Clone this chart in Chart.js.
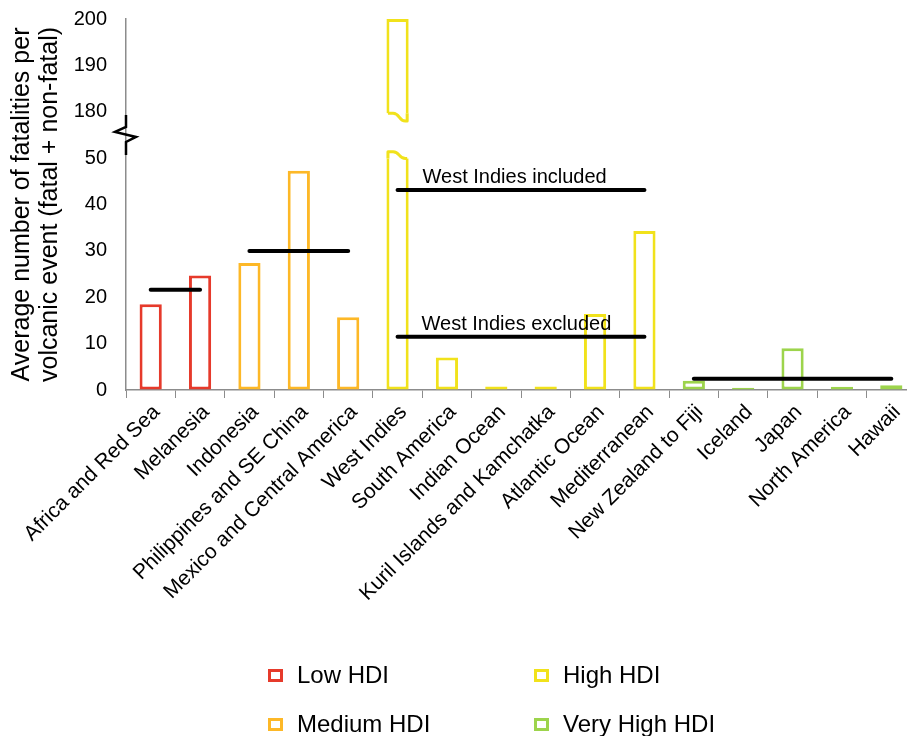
<!DOCTYPE html>
<html lang="en">
<head>
    <meta charset="UTF-8">
    <title>Volcanic fatalities by region</title>
    <script src="https://cdn.jsdelivr.net/npm/chart.js@4.4.1/dist/chart.umd.min.js"></script>
    <style>
        html, body { margin: 0; padding: 0; background: #fff; overflow: hidden; }
        #wrap { position: relative; width: 907px; height: 736px; overflow: hidden; }
        #chart { position: absolute; left: 0; top: 0; }
        .leg { position: absolute; font: 24px "Liberation Sans", Arial, sans-serif; color: #000; white-space: nowrap; }
        .leg span { position: absolute; left: -29px; top: 8px; width: 9px; height: 7px; border: 3px solid; }
    </style>
</head>
<body>
<div id="wrap">
    <canvas id="chart" width="916" height="736"></canvas>
    <div class="leg" style="left:297px; top:661px"><span style="border-color:#e63a2b"></span>Low HDI</div>
    <div class="leg" style="left:563px; top:661px"><span style="border-color:#f1e21b"></span>High HDI</div>
    <div class="leg" style="left:297px; top:710px"><span style="border-color:#fdb827"></span>Medium HDI</div>
    <div class="leg" style="left:563px; top:710px"><span style="border-color:#9dd44c"></span>Very High HDI</div>
</div>

<script>
    const regions = ['Africa and Red Sea', 'Melanesia', 'Indonesia', 'Philippines and SE China',
        'Mexico and Central America', 'West Indies', 'South America', 'Indian Ocean',
        'Kuril Islands and Kamchatka', 'Atlantic Ocean', 'Mediterranean', 'New Zealand to Fiji',
        'Iceland', 'Japan', 'North America', 'Hawaii'];

    const fatalities = [18.5, 24.7, 27.4, 47.3, 15.7, 200, 7.0, 0.75, 0.75, 16.4, 34.3, 2.0, 0.5, 9.0, 0.7, 1.0];

    const hdi = ['low', 'low', 'medium', 'medium', 'medium', 'high', 'high', 'high', 'high', 'high', 'high',
        'veryhigh', 'veryhigh', 'veryhigh', 'veryhigh', 'veryhigh'];

    const hdiColors = { low: '#e63a2b', medium: '#fdb827', high: '#f1e21b', veryhigh: '#9dd44c' };

    // group means (black bars)
    const meanLow = [21.6, 21.6, null, null, null, null, null, null, null, null, null, null, null, null, null, null];
    const meanMedium = [null, null, 30, 30, 30, null, null, null, null, null, null, null, null, null, null, null];
    const meanHighIncl = [null, null, null, null, null, 43.1, 43.1, 43.1, 43.1, 43.1, 43.1, null, null, null, null, null];
    const meanHighExcl = [null, null, null, null, null, 11.5, 11.5, 11.5, 11.5, 11.5, 11.5, null, null, null, null, null];
    const meanVeryHigh = [null, null, null, null, null, null, null, null, null, null, null, 2.4, 2.4, 2.4, 2.4, 2.4];

    const yTicks = [0, 10, 20, 30, 40, 50, 180, 190, 200];

    // broken axis: 0-50 is kept, 180-200 is drawn right above (gap of one step)
    const BREAK_LOW = 50, BREAK_HIGH = 180, BREAK_GAP = 10;
    function toAxis(v) {
        if (v == null) return null;
        return v > BREAK_LOW ? v - (BREAK_HIGH - BREAK_LOW - BREAK_GAP) : v;
    }
    function fromAxis(v) {
        return v > BREAK_LOW ? v + (BREAK_HIGH - BREAK_LOW - BREAK_GAP) : v;
    }

    const FONT = '"Liberation Sans", Arial, sans-serif';

    function meanLine(data) {
        return {
            type: 'line', data: data, borderColor: '#000', borderWidth: 4,
            borderCapStyle: 'round', pointRadius: 0, spanGaps: false, order: 0
        };
    }

    const breaksPlugin = {
        id: 'breaks',
        afterDatasetsDraw(chart) {
            const ctx = chart.ctx;
            const y = chart.scales.y, x = chart.scales.x;

            // cut in the tall West Indies bar
            const idx = fatalities.findIndex(v => v > BREAK_LOW);
            const bar = chart.getDatasetMeta(0).data[idx];
            const xl = bar.x - bar.width / 2, xr = bar.x + bar.width / 2, w = bar.width;
            const h = 1.5;
            const lowL = y.getPixelForValue(51.4), lowR = y.getPixelForValue(49.9);
            const upL = y.getPixelForValue(59.7), upR = y.getPixelForValue(58.0);
            ctx.save();
            ctx.fillStyle = '#fff';
            ctx.fillRect(xl - 1, upL, w + 2, lowR - upL);
            ctx.strokeStyle = hdiColors[hdi[idx]];
            ctx.lineWidth = 3;
            ctx.lineJoin = 'round';
            // top of the lower piece
            ctx.beginPath();
            ctx.moveTo(xl + h, lowR);
            ctx.lineTo(xl + h, lowL);
            ctx.lineTo(xl + 0.3 * w, lowL);
            ctx.bezierCurveTo(xl + 0.6 * w, lowL, xl + 0.55 * w, lowR, xl + 0.85 * w, lowR);
            ctx.lineTo(xr - h, lowR);
            ctx.stroke();
            // bottom of the upper piece
            ctx.beginPath();
            ctx.moveTo(xl + h, upL);
            ctx.lineTo(xl + 0.3 * w, upL);
            ctx.bezierCurveTo(xl + 0.6 * w, upL, xl + 0.55 * w, upR, xl + 0.85 * w, upR);
            ctx.lineTo(xr - h, upR);
            ctx.lineTo(xr - h, upL);
            ctx.stroke();
            ctx.restore();

            // axis break symbol
            const ax = y.right;
            const ym = y.getPixelForValue(55);
            ctx.save();
            ctx.strokeStyle = '#000';
            ctx.lineWidth = 2.5;
            ctx.beginPath();
            ctx.moveTo(ax, ym - 20);
            ctx.lineTo(ax, ym - 8);
            ctx.lineTo(ax - 11, ym - 3);
            ctx.lineTo(ax + 10, ym + 2);
            ctx.lineTo(ax, ym + 7);
            ctx.lineTo(ax, ym + 20);
            ctx.stroke();
            ctx.restore();

            // labels of the two High HDI means
            ctx.save();
            ctx.fillStyle = '#000';
            ctx.font = '20px ' + FONT;
            ctx.textAlign = 'left';
            ctx.textBaseline = 'alphabetic';
            const tx = x.getPixelForValue(5) + 25;
            ctx.fillText('West Indies included', tx, y.getPixelForValue(43.1) - 7);
            ctx.fillText('West Indies excluded', tx - 1, y.getPixelForValue(11.5) - 7);
            ctx.restore();
        }
    };

    new Chart(document.getElementById('chart'), {
        type: 'bar',
        data: {
            labels: regions,
            datasets: [
                {
                    data: fatalities.map(toAxis),
                    backgroundColor: '#fff',
                    borderColor: hdi.map(h => hdiColors[h]),
                    borderWidth: 3,
                    borderSkipped: false,
                    barPercentage: 0.45,
                    categoryPercentage: 1,
                    order: 1
                },
                meanLine(meanLow),
                meanLine(meanMedium),
                meanLine(meanHighIncl),
                meanLine(meanHighExcl),
                meanLine(meanVeryHigh)
            ]
        },
        options: {
            responsive: false,
            animation: false,
            layout: { padding: { top: 19, left: 0, right: 0, bottom: 0 } },
            plugins: { legend: { display: false }, tooltip: { enabled: false } },
            scales: {
                x: {
                    grid: { drawOnChartArea: false, tickLength: 8, color: '#8c8c8c', offset: true },
                    border: { color: '#8c8c8c', width: 1.5 },
                    ticks: {
                        color: '#000', font: { family: FONT, size: 21 },
                        minRotation: 45, maxRotation: 45, autoSkip: false, padding: 2, labelOffset: 6
                    },
                    afterFit(scale) { scale.height = 736 - 390; }
                },
                y: {
                    min: 0, max: toAxis(200),
                    grid: { drawOnChartArea: false, drawTicks: true, tickLength: 19, tickColor: 'rgba(0,0,0,0)' },
                    border: { color: '#8c8c8c', width: 1.5 },
                    afterBuildTicks(scale) {
                        scale.ticks = yTicks.map(v => ({ value: toAxis(v) }));
                    },
                    ticks: {
                        color: '#000', font: { family: FONT, size: 20 }, padding: 0,
                        callback: v => String(fromAxis(v))
                    },
                    title: {
                        display: true,
                        text: ['Average number of fatalities per', 'volcanic event (fatal + non-fatal)'],
                        color: '#000',
                        font: { family: FONT, size: 25, lineHeight: 1.12 },
                        padding: { top: 8, bottom: 0 }
                    },
                    afterFit(scale) { scale.width = 126; }
                }
            }
        },
        plugins: [breaksPlugin]
    });
</script>
</body>
</html>
